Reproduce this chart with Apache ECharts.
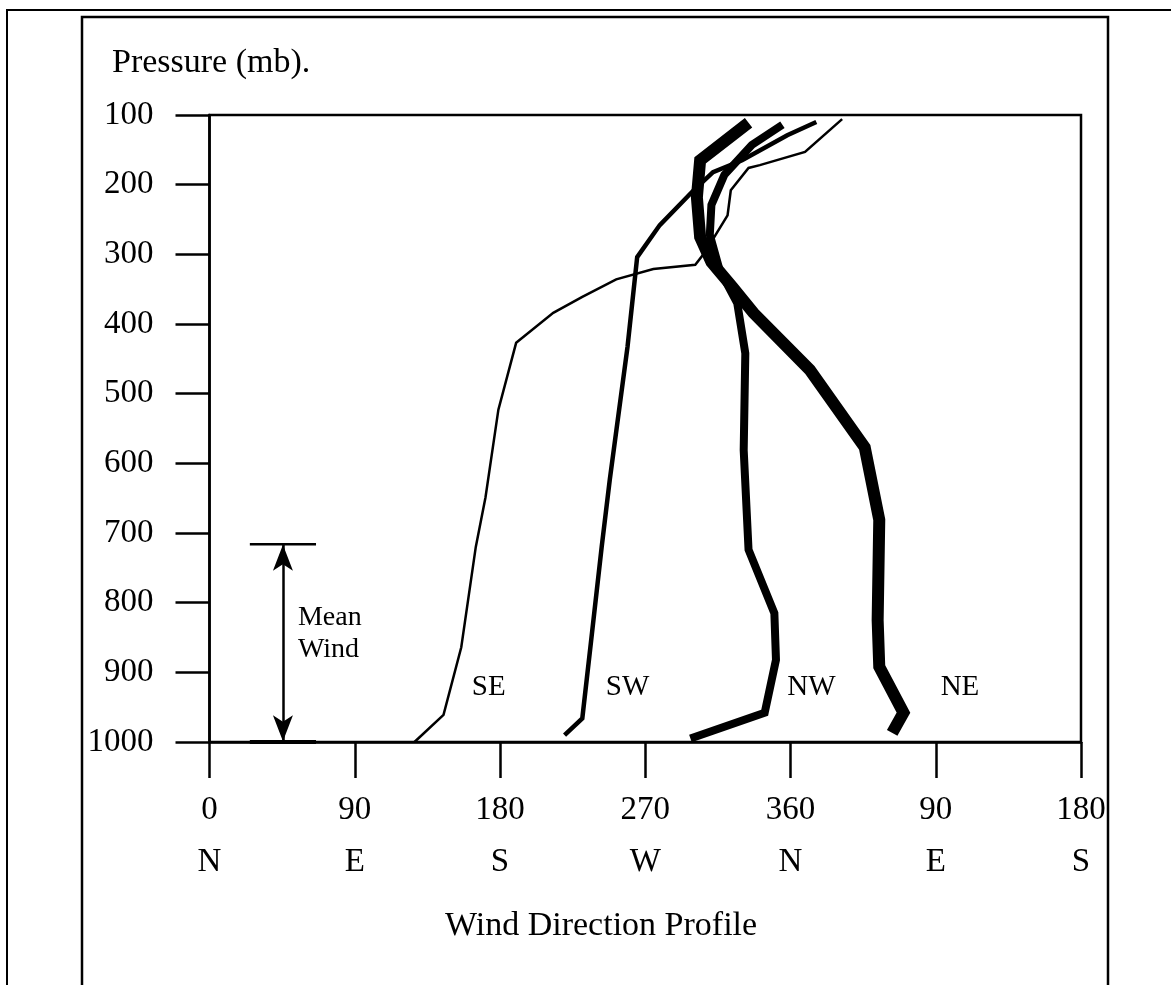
<!DOCTYPE html>
<html>
<head>
<meta charset="utf-8">
<script src="https://cdn.jsdelivr.net/npm/echarts@6/dist/echarts.min.js"></script>
<style>
  html, body { margin: 0; padding: 0; background: #fff; }
  #chart { width: 1171px; height: 985px; }
</style>
</head>
<body>
<div id="chart"></div>
<script>
// wind direction (deg, past 360 keeps going round) vs pressure (mb)
const seDeg = [127, 145, 156, 165, 171, 179, 190, 213, 231, 252, 275, 301, 307, 321, 323, 334, 341, 369, 392];
const sePres = [1000, 961, 864, 720, 649, 523, 427, 384, 361, 336, 321, 315, 297, 244, 208, 176, 172, 153, 106];

const swDeg = [220, 231, 236, 243, 248, 259, 265, 279, 300, 312, 330, 358, 376];
const swPres = [990, 966, 864, 720, 624, 433, 304, 258, 208, 182, 165, 129, 110];

const nwDeg = [298, 344, 351, 350, 334, 331, 332, 327, 316, 310, 311, 319, 336, 355];
const nwPres = [995, 958, 882, 815, 724, 581, 442, 370, 322, 272, 229, 186, 143, 114];

const neDeg = [423, 430, 415, 414, 415, 406, 372, 337, 324, 311, 304, 302, 304, 334];
const nePres = [987, 958, 892, 825, 681, 577, 466, 384, 347, 311, 275, 218, 165, 111];

const xTicks = ["0", "90", "180", "270", "360", "90", "180"];
const compass = ["N", "E", "S", "W", "N", "E", "S"];

const curveNames = ["SE", "SW", "NW", "NE"];
const curveLabelDeg = [173, 259, 373, 465];
const curveLabelPres = [922, 922, 922, 922];

// mean wind layer marker
const meanTop = 716;
const meanBottom = 1000;
const meanDeg = 45.5;
const meanHalf = 20.5;

const zip = (a, b) => a.map((v, i) => [v, b[i]]);
const font = "Liberation Serif";

const chart = echarts.init(document.getElementById("chart"));

const lineSeries = (data, width) => ({
  type: "line",
  data: data,
  symbol: "none",
  clip: false,
  silent: true,
  lineStyle: { color: "#000", width: width, cap: "butt", join: "miter" },
});

const option = {
  backgroundColor: "#fff",
  animation: false,
  grid: {
    left: 209.5,
    right: 90,
    top: 115,
    bottom: 243,
    show: true,
    borderColor: "#000",
    borderWidth: 2.5,
  },
  graphic: [
    { type: "rect", shape: { x: 7, y: 10, width: 1300, height: 1100 }, style: { fill: "none", stroke: "#000", lineWidth: 2 } },
    { type: "rect", shape: { x: 82, y: 17, width: 1026, height: 1100 }, style: { fill: "none", stroke: "#000", lineWidth: 2.5 } },
    { type: "text", left: 112, top: 46, style: { text: "Pressure (mb).", font: "34px " + font, fill: "#000" } },
    { type: "text", left: 445, top: 909, style: { text: "Wind Direction Profile", font: "34px " + font, fill: "#000" } },
  ],
  xAxis: {
    type: "value",
    min: 0,
    max: 540,
    interval: 90,
    splitLine: { show: false },
    axisLine: { lineStyle: { color: "#000", width: 2.5 } },
    axisTick: { length: 36, lineStyle: { color: "#000", width: 2.5 } },
    axisLabel: {
      margin: 42,
      formatter: (v) => {
        const i = Math.round(v / 90);
        return "{a|" + xTicks[i] + "}\n{b|" + compass[i] + "}";
      },
      rich: {
        a: { fontFamily: font, fontSize: 33, color: "#000", lineHeight: 52 },
        b: { fontFamily: font, fontSize: 33, color: "#000", lineHeight: 52 },
      },
    },
  },
  yAxis: {
    type: "value",
    inverse: true,
    min: 100,
    max: 1000,
    interval: 100,
    splitLine: { show: false },
    axisLine: { lineStyle: { color: "#000", width: 2.5 } },
    axisTick: { length: 34, lineStyle: { color: "#000", width: 2.5 } },
    axisLabel: { margin: 56, fontFamily: font, fontSize: 33, color: "#000", formatter: (v) => String(v) },
  },
  series: [
    lineSeries(zip(seDeg, sePres), 2.5),
    lineSeries(zip(swDeg, swPres), 4.5),
    lineSeries(zip(nwDeg, nwPres), 8),
    lineSeries(zip(neDeg, nePres), 12),
    {
      type: "scatter",
      symbol: "circle",
      symbolSize: 1,
      itemStyle: { color: "rgba(0,0,0,0)", opacity: 1 },
      silent: true,
      data: curveNames.map((n, i) => ({ value: [curveLabelDeg[i], curveLabelPres[i]], name: n })),
      label: {
        show: true,
        position: "inside",
        formatter: (p) => p.name,
        fontFamily: font,
        fontSize: 29,
        color: "#000",
      },
    },
    // mean wind bars + arrow
    lineSeries([[meanDeg - meanHalf, meanTop], [meanDeg + meanHalf, meanTop]], 2.5),
    {
      ...lineSeries([[meanDeg - meanHalf, meanBottom], [meanDeg + meanHalf, meanBottom]], 4),
      markLine: {
        silent: true,
        symbol: ["arrow", "arrow"],
        symbolSize: [15, 26],
        label: { show: false },
        lineStyle: { color: "#000", width: 2.5, type: "solid" },
        data: [[{ coord: [meanDeg, meanTop + 1] }, { coord: [meanDeg, meanBottom - 1] }]],
      },
    },
    {
      type: "scatter",
      symbol: "circle",
      symbolSize: 1,
      itemStyle: { color: "rgba(0,0,0,0)", opacity: 1 },
      silent: true,
      data: [{ value: [meanDeg + 9, 845], name: "Mean\nWind" }],
      label: {
        show: true,
        position: "right",
        distance: 0,
        align: "left",
        formatter: (p) => p.name,
        fontFamily: font,
        fontSize: 28,
        lineHeight: 32,
        color: "#000",
      },
    },
  ],
};

chart.setOption(option);
</script>
</body>
</html>
